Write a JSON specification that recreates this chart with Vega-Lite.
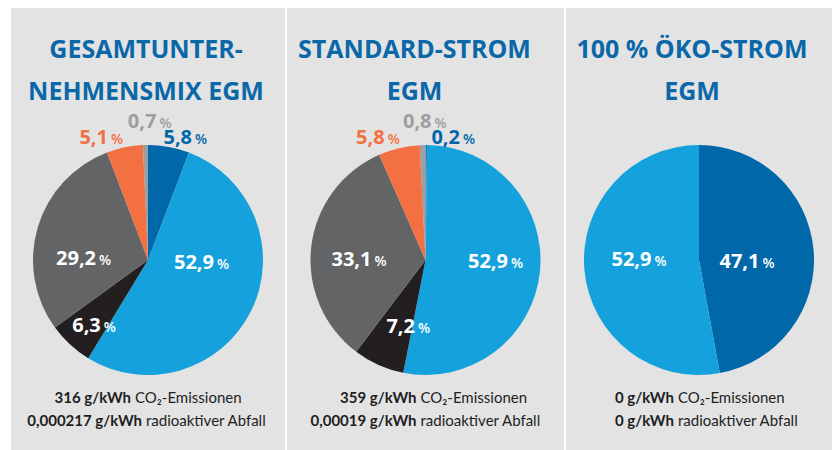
{
"$schema": "https://vega.github.io/schema/vega-lite/v6.json",
"background": "white",
"padding": {"left": 11, "top": 8, "right": 5, "bottom": 0},
"config": {
  "view": {"fill": "#e3e3e3", "stroke": null},
  "locale": {"number": {"decimal": ",", "thousands": ".", "grouping": [3], "currency": ["", " €"]}},
  "style": {
    "num": {"font": "Open Sans", "fontSize": 20, "fontWeight": "bold", "align": "right", "baseline": "alphabetic", "dx": -1, "dy": 7},
    "pct": {"font": "Open Sans", "fontSize": 14, "fontWeight": 600, "align": "left", "baseline": "alphabetic", "dx": 2, "dy": 7},
    "ttl": {"font": "Open Sans", "fontSize": 25, "fontWeight": "bold", "align": "center", "baseline": "alphabetic", "dy": 9},
    "fb": {"font": "Lato", "fontSize": 15, "fontWeight": "bold", "align": "right", "baseline": "alphabetic", "dy": 5},
    "fr": {"font": "Lato", "fontSize": 15, "fontWeight": "normal", "align": "left", "baseline": "alphabetic", "dy": 5}
  }
},
"datasets": {
  "gesamt": [
    {"category": "Erneuerbare (HKN)", "value": 5.8},
    {"category": "Erneuerbare (EEG)", "value": 52.9},
    {"category": "Kernkraft", "value": 6.3},
    {"category": "Kohle", "value": 29.2},
    {"category": "Erdgas", "value": 5.1},
    {"category": "Sonstige fossile", "value": 0.7}
  ],
  "standard": [
    {"category": "Erneuerbare (HKN)", "value": 0.2},
    {"category": "Erneuerbare (EEG)", "value": 52.9},
    {"category": "Kernkraft", "value": 7.2},
    {"category": "Kohle", "value": 33.1},
    {"category": "Erdgas", "value": 5.8},
    {"category": "Sonstige fossile", "value": 0.8}
  ],
  "oeko": [
    {"category": "Erneuerbare (HKN)", "value": 47.1},
    {"category": "Erneuerbare (EEG)", "value": 52.9}
  ],
  "titles": [
    {"panel": "gesamt", "line": 1, "text": "GESAMTUNTER-"},
    {"panel": "gesamt", "line": 2, "text": "NEHMENSMIX EGM"},
    {"panel": "standard", "line": 1, "text": "STANDARD-STROM"},
    {"panel": "standard", "line": 2, "text": "EGM"},
    {"panel": "oeko", "line": 1, "text": "100 % ÖKO-STROM"},
    {"panel": "oeko", "line": 2, "text": "EGM"}
  ],
  "footer": [
    {"panel": "gesamt", "line": 1, "bold": "316 g/kWh", "regular": "CO₂-Emissionen"},
    {"panel": "gesamt", "line": 2, "bold": "0,000217 g/kWh", "regular": "radioaktiver Abfall"},
    {"panel": "standard", "line": 1, "bold": "359 g/kWh", "regular": "CO₂-Emissionen"},
    {"panel": "standard", "line": 2, "bold": "0,00019 g/kWh", "regular": "radioaktiver Abfall"},
    {"panel": "oeko", "line": 1, "bold": "0 g/kWh", "regular": "CO₂-Emissionen"},
    {"panel": "oeko", "line": 2, "bold": "0 g/kWh", "regular": "radioaktiver Abfall"}
  ]
},
"spacing": 2,
"hconcat": [
  {
    "spacing": 0, "bounds": "flush",
    "vconcat": [
      {"width": 274, "height": 124, "data": {"name": "titles"}, "transform": [{"filter": "datum.panel === 'gesamt'"}],
       "mark": {"type": "text", "style": "ttl", "dx": -2, "color": "#0a68a9"},
       "encoding": {"y": {"field": "line", "type": "ordinal", "axis": null, "scale": {"type": "point", "padding": 1.8}}, "text": {"field": "text", "type": "nominal"}}},
      {"width": 274, "height": 256, "data": {"name": "gesamt"}, "view": {"fill": "#e3e3e3", "stroke": null},
       "transform": [{"window": [{"op": "row_number", "as": "idx"}]}, {"stack": "value", "groupby": [], "sort": [{"field": "idx", "order": "ascending"}], "as": ["v0", "v1"]}],
       "layer": [
        {"mark": {"type": "arc", "outerRadius": 115}, "encoding": {"theta": {"field": "v0", "type": "quantitative", "stack": null, "scale": {"domain": [0, 100]}}, "theta2": {"field": "v1"}, "color": {"field": "category", "type": "nominal", "legend": null, "scale": {"domain": ["Erneuerbare (HKN)", "Erneuerbare (EEG)", "Kernkraft", "Kohle", "Erdgas", "Sonstige fossile"], "range": ["#0067a9", "#15a2dc", "#231f20", "#636466", "#f37042", "#9c9ea1"]}}}},
        {"transform": [{"filter": "datum.category === 'Erneuerbare (HKN)'"}], "mark": {"type": "text", "style": "num", "radius": 131, "thetaOffset": 0.351}, "encoding": {"theta": {"field": "v0", "type": "quantitative", "stack": null, "scale": {"domain": [0, 100]}}, "text": {"field": "value", "type": "quantitative", "format": ".1f"}, "color": {"field": "category", "type": "nominal", "legend": null}}},
        {"transform": [{"filter": "datum.category === 'Erneuerbare (HKN)'"}], "mark": {"type": "text", "style": "pct", "radius": 131, "thetaOffset": 0.351}, "encoding": {"theta": {"field": "v0", "type": "quantitative", "stack": null, "scale": {"domain": [0, 100]}}, "text": {"value": "%"}, "color": {"field": "category", "type": "nominal", "legend": null}}},
        {"transform": [{"filter": "datum.category === 'Erneuerbare (EEG)'"}], "mark": {"type": "text", "style": "num", "radius": 67, "thetaOffset": 1.236, "color": "white"}, "encoding": {"theta": {"field": "v0", "type": "quantitative", "stack": null, "scale": {"domain": [0, 100]}}, "text": {"field": "value", "type": "quantitative", "format": ".1f"}}},
        {"transform": [{"filter": "datum.category === 'Erneuerbare (EEG)'"}], "mark": {"type": "text", "style": "pct", "radius": 67, "thetaOffset": 1.236, "color": "white"}, "encoding": {"theta": {"field": "v0", "type": "quantitative", "stack": null, "scale": {"domain": [0, 100]}}, "text": {"value": "%"}}},
        {"transform": [{"filter": "datum.category === 'Kernkraft'"}], "mark": {"type": "text", "style": "num", "radius": 80, "thetaOffset": 0.069, "color": "white"}, "encoding": {"theta": {"field": "v0", "type": "quantitative", "stack": null, "scale": {"domain": [0, 100]}}, "text": {"field": "value", "type": "quantitative", "format": ".1f"}}},
        {"transform": [{"filter": "datum.category === 'Kernkraft'"}], "mark": {"type": "text", "style": "pct", "radius": 80, "thetaOffset": 0.069, "color": "white"}, "encoding": {"theta": {"field": "v0", "type": "quantitative", "stack": null, "scale": {"domain": [0, 100]}}, "text": {"value": "%"}}},
        {"transform": [{"filter": "datum.category === 'Kohle'"}], "mark": {"type": "text", "style": "num", "radius": 51, "thetaOffset": 0.667, "color": "white"}, "encoding": {"theta": {"field": "v0", "type": "quantitative", "stack": null, "scale": {"domain": [0, 100]}}, "text": {"field": "value", "type": "quantitative", "format": ".1f"}}},
        {"transform": [{"filter": "datum.category === 'Kohle'"}], "mark": {"type": "text", "style": "pct", "radius": 51, "thetaOffset": 0.667, "color": "white"}, "encoding": {"theta": {"field": "v0", "type": "quantitative", "stack": null, "scale": {"domain": [0, 100]}}, "text": {"value": "%"}}},
        {"transform": [{"filter": "datum.category === 'Erdgas'"}], "mark": {"type": "text", "style": "num", "radius": 129, "thetaOffset": 0.057}, "encoding": {"theta": {"field": "v0", "type": "quantitative", "stack": null, "scale": {"domain": [0, 100]}}, "text": {"field": "value", "type": "quantitative", "format": ".1f"}, "color": {"field": "category", "type": "nominal", "legend": null}}},
        {"transform": [{"filter": "datum.category === 'Erdgas'"}], "mark": {"type": "text", "style": "pct", "radius": 129, "thetaOffset": 0.057}, "encoding": {"theta": {"field": "v0", "type": "quantitative", "stack": null, "scale": {"domain": [0, 100]}}, "text": {"value": "%"}, "color": {"field": "category", "type": "nominal", "legend": null}}},
        {"transform": [{"filter": "datum.category === 'Sonstige fossile'"}], "mark": {"type": "text", "style": "num", "radius": 139, "thetaOffset": 0.112}, "encoding": {"theta": {"field": "v0", "type": "quantitative", "stack": null, "scale": {"domain": [0, 100]}}, "text": {"field": "value", "type": "quantitative", "format": ".1f"}, "color": {"field": "category", "type": "nominal", "legend": null}}},
        {"transform": [{"filter": "datum.category === 'Sonstige fossile'"}], "mark": {"type": "text", "style": "pct", "radius": 139, "thetaOffset": 0.112}, "encoding": {"theta": {"field": "v0", "type": "quantitative", "stack": null, "scale": {"domain": [0, 100]}}, "text": {"value": "%"}, "color": {"field": "category", "type": "nominal", "legend": null}}}
       ]},
      {"width": 274, "height": 62, "data": {"name": "footer"}, "transform": [{"filter": "datum.panel === 'gesamt'"}],
       "encoding": {"y": {"field": "line", "type": "ordinal", "axis": null, "scale": {"type": "point", "padding": 0.848, "align": 0.256}}},
       "layer": [
        {"transform": [{"filter": "datum.line === 1"}], "mark": {"type": "text", "style": "fb", "dx": -17, "color": "#1e1e1e"}, "encoding": {"text": {"field": "bold", "type": "nominal"}}},
        {"transform": [{"filter": "datum.line === 1"}], "mark": {"type": "text", "style": "fr", "dx": -13, "color": "#1e1e1e"}, "encoding": {"text": {"field": "regular", "type": "nominal"}}},
        {"transform": [{"filter": "datum.line === 2"}], "mark": {"type": "text", "style": "fb", "dx": -6, "color": "#1e1e1e"}, "encoding": {"text": {"field": "bold", "type": "nominal"}}},
        {"transform": [{"filter": "datum.line === 2"}], "mark": {"type": "text", "style": "fr", "dx": -2, "color": "#1e1e1e"}, "encoding": {"text": {"field": "regular", "type": "nominal"}}}
       ]}
    ]
  },
  {
    "spacing": 0, "bounds": "flush",
    "vconcat": [
      {"width": 277, "height": 124, "data": {"name": "titles"}, "transform": [{"filter": "datum.panel === 'standard'"}],
       "mark": {"type": "text", "style": "ttl", "dx": -11, "color": "#0a68a9"},
       "encoding": {"y": {"field": "line", "type": "ordinal", "axis": null, "scale": {"type": "point", "padding": 1.8}}, "text": {"field": "text", "type": "nominal"}}},
      {"width": 277, "height": 256, "data": {"name": "standard"}, "view": {"fill": "#e3e3e3", "stroke": null},
       "transform": [{"window": [{"op": "row_number", "as": "idx"}]}, {"stack": "value", "groupby": [], "sort": [{"field": "idx", "order": "ascending"}], "as": ["v0", "v1"]}],
       "layer": [
        {"mark": {"type": "arc", "outerRadius": 115}, "encoding": {"theta": {"field": "v0", "type": "quantitative", "stack": null, "scale": {"domain": [0, 100]}}, "theta2": {"field": "v1"}, "color": {"field": "category", "type": "nominal", "legend": null, "scale": {"domain": ["Erneuerbare (HKN)", "Erneuerbare (EEG)", "Kernkraft", "Kohle", "Erdgas", "Sonstige fossile"], "range": ["#0067a9", "#15a2dc", "#231f20", "#636466", "#f37042", "#9c9ea1"]}}}},
        {"transform": [{"filter": "datum.category === 'Erneuerbare (HKN)'"}], "mark": {"type": "text", "style": "num", "radius": 128, "thetaOffset": 0.281}, "encoding": {"theta": {"field": "v0", "type": "quantitative", "stack": null, "scale": {"domain": [0, 100]}}, "text": {"field": "value", "type": "quantitative", "format": ".1f"}, "color": {"field": "category", "type": "nominal", "legend": null}}},
        {"transform": [{"filter": "datum.category === 'Erneuerbare (HKN)'"}], "mark": {"type": "text", "style": "pct", "radius": 128, "thetaOffset": 0.281}, "encoding": {"theta": {"field": "v0", "type": "quantitative", "stack": null, "scale": {"domain": [0, 100]}}, "text": {"value": "%"}, "color": {"field": "category", "type": "nominal", "legend": null}}},
        {"transform": [{"filter": "datum.category === 'Erneuerbare (EEG)'"}], "mark": {"type": "text", "style": "num", "radius": 83.5, "thetaOffset": 1.570, "color": "white"}, "encoding": {"theta": {"field": "v0", "type": "quantitative", "stack": null, "scale": {"domain": [0, 100]}}, "text": {"field": "value", "type": "quantitative", "format": ".1f"}}},
        {"transform": [{"filter": "datum.category === 'Erneuerbare (EEG)'"}], "mark": {"type": "text", "style": "pct", "radius": 83.5, "thetaOffset": 1.570, "color": "white"}, "encoding": {"theta": {"field": "v0", "type": "quantitative", "stack": null, "scale": {"domain": [0, 100]}}, "text": {"value": "%"}}},
        {"transform": [{"filter": "datum.category === 'Kernkraft'"}], "mark": {"type": "text", "style": "num", "radius": 67, "thetaOffset": -0.052, "color": "white"}, "encoding": {"theta": {"field": "v0", "type": "quantitative", "stack": null, "scale": {"domain": [0, 100]}}, "text": {"field": "value", "type": "quantitative", "format": ".1f"}}},
        {"transform": [{"filter": "datum.category === 'Kernkraft'"}], "mark": {"type": "text", "style": "pct", "radius": 67, "thetaOffset": -0.052, "color": "white"}, "encoding": {"theta": {"field": "v0", "type": "quantitative", "stack": null, "scale": {"domain": [0, 100]}}, "text": {"value": "%"}}},
        {"transform": [{"filter": "datum.category === 'Kohle'"}], "mark": {"type": "text", "style": "num", "radius": 53, "thetaOffset": 0.943, "color": "white"}, "encoding": {"theta": {"field": "v0", "type": "quantitative", "stack": null, "scale": {"domain": [0, 100]}}, "text": {"field": "value", "type": "quantitative", "format": ".1f"}}},
        {"transform": [{"filter": "datum.category === 'Kohle'"}], "mark": {"type": "text", "style": "pct", "radius": 53, "thetaOffset": 0.943, "color": "white"}, "encoding": {"theta": {"field": "v0", "type": "quantitative", "stack": null, "scale": {"domain": [0, 100]}}, "text": {"value": "%"}}},
        {"transform": [{"filter": "datum.category === 'Erdgas'"}], "mark": {"type": "text", "style": "num", "radius": 129, "thetaOffset": 0.101}, "encoding": {"theta": {"field": "v0", "type": "quantitative", "stack": null, "scale": {"domain": [0, 100]}}, "text": {"field": "value", "type": "quantitative", "format": ".1f"}, "color": {"field": "category", "type": "nominal", "legend": null}}},
        {"transform": [{"filter": "datum.category === 'Erdgas'"}], "mark": {"type": "text", "style": "pct", "radius": 129, "thetaOffset": 0.101}, "encoding": {"theta": {"field": "v0", "type": "quantitative", "stack": null, "scale": {"domain": [0, 100]}}, "text": {"value": "%"}, "color": {"field": "category", "type": "nominal", "legend": null}}},
        {"transform": [{"filter": "datum.category === 'Sonstige fossile'"}], "mark": {"type": "text", "style": "num", "radius": 139, "thetaOffset": 0.101}, "encoding": {"theta": {"field": "v0", "type": "quantitative", "stack": null, "scale": {"domain": [0, 100]}}, "text": {"field": "value", "type": "quantitative", "format": ".1f"}, "color": {"field": "category", "type": "nominal", "legend": null}}},
        {"transform": [{"filter": "datum.category === 'Sonstige fossile'"}], "mark": {"type": "text", "style": "pct", "radius": 139, "thetaOffset": 0.101}, "encoding": {"theta": {"field": "v0", "type": "quantitative", "stack": null, "scale": {"domain": [0, 100]}}, "text": {"value": "%"}, "color": {"field": "category", "type": "nominal", "legend": null}}}
       ]},
      {"width": 277, "height": 62, "data": {"name": "footer"}, "transform": [{"filter": "datum.panel === 'standard'"}],
       "encoding": {"y": {"field": "line", "type": "ordinal", "axis": null, "scale": {"type": "point", "padding": 0.848, "align": 0.256}}},
       "layer": [
        {"mark": {"type": "text", "style": "fb", "dx": -9, "color": "#1e1e1e"}, "encoding": {"text": {"field": "bold", "type": "nominal"}}},
        {"mark": {"type": "text", "style": "fr", "dx": -5, "color": "#1e1e1e"}, "encoding": {"text": {"field": "regular", "type": "nominal"}}}
       ]}
    ]
  },
  {
    "spacing": 0, "bounds": "flush",
    "vconcat": [
      {"width": 266, "height": 124, "data": {"name": "titles"}, "transform": [{"filter": "datum.panel === 'oeko'"}],
       "mark": {"type": "text", "style": "ttl", "dx": -7, "color": "#0a68a9"},
       "encoding": {"y": {"field": "line", "type": "ordinal", "axis": null, "scale": {"type": "point", "padding": 1.8}}, "text": {"field": "text", "type": "nominal"}}},
      {"width": 266, "height": 256, "data": {"name": "oeko"}, "view": {"fill": "#e3e3e3", "stroke": null},
       "transform": [{"window": [{"op": "row_number", "as": "idx"}]}, {"stack": "value", "groupby": [], "sort": [{"field": "idx", "order": "ascending"}], "as": ["v0", "v1"]}],
       "layer": [
        {"mark": {"type": "arc", "outerRadius": 115}, "encoding": {"theta": {"field": "v0", "type": "quantitative", "stack": null, "scale": {"domain": [0, 100]}}, "theta2": {"field": "v1"}, "color": {"field": "category", "type": "nominal", "legend": null, "scale": {"domain": ["Erneuerbare (HKN)", "Erneuerbare (EEG)", "Kernkraft", "Kohle", "Erdgas", "Sonstige fossile"], "range": ["#0067a9", "#15a2dc", "#231f20", "#636466", "#f37042", "#9c9ea1"]}}}},
        {"transform": [{"filter": "datum.category === 'Erneuerbare (HKN)'"}], "mark": {"type": "text", "style": "num", "radius": 61.5, "thetaOffset": 1.587, "color": "white"}, "encoding": {"theta": {"field": "v0", "type": "quantitative", "stack": null, "scale": {"domain": [0, 100]}}, "text": {"field": "value", "type": "quantitative", "format": ".1f"}}},
        {"transform": [{"filter": "datum.category === 'Erneuerbare (HKN)'"}], "mark": {"type": "text", "style": "pct", "radius": 61.5, "thetaOffset": 1.587, "color": "white"}, "encoding": {"theta": {"field": "v0", "type": "quantitative", "stack": null, "scale": {"domain": [0, 100]}}, "text": {"value": "%"}}},
        {"transform": [{"filter": "datum.category === 'Erneuerbare (EEG)'"}], "mark": {"type": "text", "style": "num", "radius": 46.5, "thetaOffset": 1.774, "color": "white"}, "encoding": {"theta": {"field": "v0", "type": "quantitative", "stack": null, "scale": {"domain": [0, 100]}}, "text": {"field": "value", "type": "quantitative", "format": ".1f"}}},
        {"transform": [{"filter": "datum.category === 'Erneuerbare (EEG)'"}], "mark": {"type": "text", "style": "pct", "radius": 46.5, "thetaOffset": 1.774, "color": "white"}, "encoding": {"theta": {"field": "v0", "type": "quantitative", "stack": null, "scale": {"domain": [0, 100]}}, "text": {"value": "%"}}}
       ]},
      {"width": 266, "height": 62, "data": {"name": "footer"}, "transform": [{"filter": "datum.panel === 'oeko'"}],
       "encoding": {"y": {"field": "line", "type": "ordinal", "axis": null, "scale": {"type": "point", "padding": 0.848, "align": 0.256}}},
       "layer": [
        {"mark": {"type": "text", "style": "fb", "dx": -25, "color": "#1e1e1e"}, "encoding": {"text": {"field": "bold", "type": "nominal"}}},
        {"mark": {"type": "text", "style": "fr", "dx": -21, "color": "#1e1e1e"}, "encoding": {"text": {"field": "regular", "type": "nominal"}}}
       ]}
    ]
  }
]
}
